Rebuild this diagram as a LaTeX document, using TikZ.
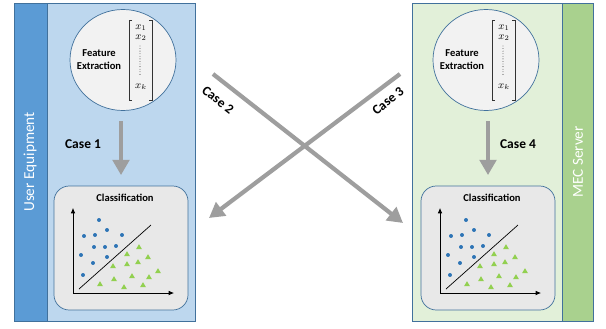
\documentclass[tikz,border=0pt]{standalone}
\usepackage{fontspec}
\setmainfont{Carlito}
\usetikzlibrary{arrows.meta,shapes.geometric}
\definecolor{ueblue}{RGB}{91,155,213}
\definecolor{uelight}{RGB}{189,215,238}
\definecolor{mecgreen}{RGB}{169,209,142}
\definecolor{meclight}{RGB}{226,240,217}
\definecolor{edgeblue}{RGB}{65,113,156}
\definecolor{circfill}{RGB}{242,242,242}
\definecolor{boxfill}{RGB}{232,232,232}
\definecolor{dotblue}{RGB}{46,117,182}
\definecolor{leafgreen}{RGB}{146,208,80}
\definecolor{arrowgray}{RGB}{158,158,158}
\def\featurevec(#1){
	\begin{scope}[shift={(#1)}]
		\draw[line width=0.5pt, color=black!80] (9,-40) -- (6,-40) -- (6,40) -- (9,40);
		\draw[line width=0.5pt, color=black!80] (26,-40) -- (29,-40) -- (29,40) -- (26,40);
		\node[font=\small] at (18,-32) {$x_1$};
		\node[font=\small] at (18,-22) {$x_2$};
		\draw[line width=0.7pt, line cap=round, dash pattern=on 0pt off 2.2pt] (17,-14) -- (17,16);
		\node[font=\small] at (18,27) {$x_k$};
	\end{scope}}
\def\scatterplot(#1){
	\begin{scope}[shift={(#1)}]
		\node[font=\fontsize{9}{10}\selectfont\bfseries] at (71,12) {Classification};
		\draw[line width=0.6pt, -{Latex[length=4.5pt,width=4pt]}] (19,107) -- (19,22);
		\draw[line width=0.6pt, -{Latex[length=4.5pt,width=4pt]}] (19,107) -- (120,107);
		\draw[line width=0.6pt] (25,103) -- (97,39);
		\foreach \a/\b in {45/34,30/50,41/49,53/44,68/49,40/61,51/61,62/60,27/69,39/77,53/71,29/89}
			\fill[dotblue] (\a,\b) circle[radius=1.7pt];
		\foreach \a/\b in {85/61,73/68,94/71,59/80,73/78,84/76,104/85,60/93,78/90,95/91,46/98,70/101,89/99}
			\fill[leafgreen] (\a,\b) ++(0,-2.8) -- ++(3,5) -- ++(-6,0) -- cycle;
	\end{scope}}

\begin{document}
\begin{tikzpicture}[x=0.03cm, y=-0.03cm,
	casearrow/.style={line width=4.2pt, color=arrowgray, -{Triangle[length=13pt,width=14pt]}},
	crossarrow/.style={line width=3.6pt, color=arrowgray, -{Triangle[length=13pt,width=14pt]}},
	caselabel/.style={font=\fontsize{11.5}{12}\selectfont\bfseries},
	featcircle/.style={ellipse, draw=edgeblue, fill=circfill, line width=0.6pt, minimum width=3.18cm, minimum height=3.03cm},
	classbox/.style={draw=edgeblue, fill=boxfill, line width=0.6pt, rounded corners=13pt, minimum width=4.02cm, minimum height=3.72cm},
	feattext/.style={font=\fontsize{9}{11}\selectfont\bfseries, align=center},
	striplabel/.style={rotate=90, text=white, font=\fontsize{13}{14}\selectfont}]
	%%%%% START %%%%%
	\useasboundingbox (0,0) rectangle (606,328);
	
	% user equipment side
	\draw[line width=0.6pt, color=edgeblue, fill=uelight] (14,3) rectangle (195,321);
	\draw[line width=0.6pt, color=edgeblue, fill=ueblue] (14,3) rectangle (47,321);
	\node[striplabel] (ue) at (30,162) {User Equipment};
	
	\node[featcircle] (fe1) at (123,60) {};
	\node[feattext] (ft1) at (99,60) {Feature\\Extraction};
	\featurevec(123,60)
	
	\node[classbox] (cls1) at (121,248) {};
	\scatterplot(54,186)
	
	% MEC server side
	\draw[line width=0.6pt, color=edgeblue, fill=meclight] (412,3) rectangle (593,321);
	\draw[line width=0.6pt, color=edgeblue, fill=mecgreen] (562,3) rectangle (593,321);
	\node[striplabel] (mec) at (578,162) {MEC Server};
	
	\node[featcircle] (fe2) at (486,60) {};
	\node[feattext] (ft2) at (462,60) {Feature\\Extraction};
	\featurevec(486,60)
	
	\node[classbox] (cls2) at (488,248) {};
	\scatterplot(421,186)
	
	% cases
	\draw[casearrow, shorten <=9pt, shorten >=9pt] (fe1.south -| cls1.north) -- (cls1.north);
	\node[caselabel] (case1) at (83,144) {Case 1};
	\draw[casearrow, shorten <=9pt, shorten >=9pt] (fe2.south -| cls2.north) -- (cls2.north);
	\node[caselabel] (case4) at (518,144) {Case 4};
	
	\coordinate (c2s) at (213,74);
	\coordinate (c2e) at (403,223);
	\coordinate (c3s) at (400,74);
	\coordinate (c3e) at (209,218);
	\draw[crossarrow] (c2s) -- (c2e);
	\draw[crossarrow] (c3s) -- (c3e);
	\node[caselabel, rotate=-38] (case2) at (218,100) {Case 2};
	\node[caselabel, rotate=38] (case3) at (388,101) {Case 3};
	%%%%% END %%%%%
\end{tikzpicture}
\end{document}
